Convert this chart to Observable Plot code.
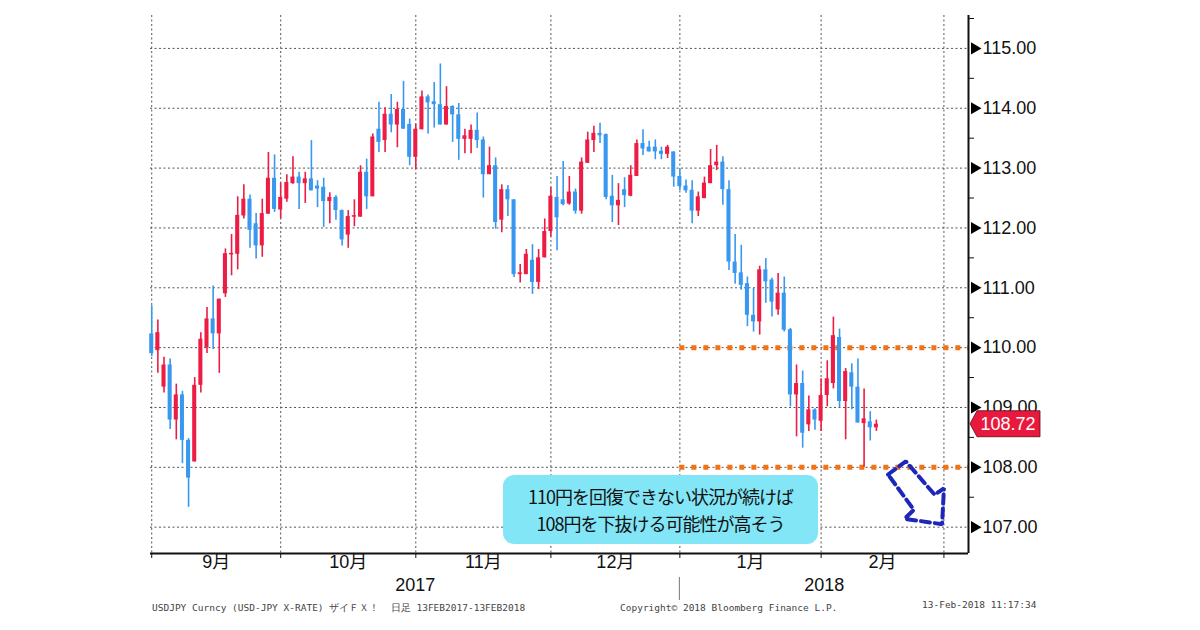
<!DOCTYPE html>
<html><head><meta charset="utf-8">
<script src="https://cdn.jsdelivr.net/npm/d3@7"></script>
<script src="https://cdn.jsdelivr.net/npm/@observablehq/plot@0.6"></script>
<style>
body{margin:0;background:#fff;}
#wrap{position:relative;width:1200px;height:630px;overflow:hidden;background:#fff;}
#callout{position:absolute;left:503px;top:475px;width:315px;height:69px;border-radius:11px;background:#82e6f7;color:#111;font-family:"Noto Sans CJK JP",sans-serif;font-size:18px;letter-spacing:-1px;line-height:26.5px;text-align:center;display:flex;flex-direction:column;justify-content:center;}
.foot{position:absolute;font-family:"DejaVu Sans Mono",monospace;font-size:9.5px;line-height:12px;color:#444;white-space:pre;}
</style></head>
<body><div id="wrap"></div>
<script>
// ---- data (USD/JPY daily candles, index 0 = first visible day) ----
const opens = [110.23,109.95,109.34,109.71,108.79,109.21,108.45,108.09,109.37,110.00,
110.48,110.23,110.90,111.55,111.56,112.20,112.48,112.07,111.70,112.23,
112.83,112.30,112.48,112.74,112.85,112.74,112.82,112.70,112.68,112.44,
112.51,112.29,111.88,112.18,112.18,112.93,112.52,113.65,113.46,113.90,
113.72,113.98,113.73,113.18,113.64,114.19,114.11,114.06,113.72,114.03,
113.89,113.48,113.48,113.63,113.47,112.89,113.04,112.13,112.64,112.47,
111.22,111.22,111.46,111.09,111.50,111.94,112.51,112.47,112.40,112.60,
112.28,113.08,113.46,113.58,113.56,112.53,112.37,112.64,112.53,112.86,
113.41,113.35,113.35,113.28,113.23,113.27,112.86,112.70,112.63,112.28,
112.49,112.74,113.04,113.10,112.64,111.43,111.25,111.07,110.54,110.43,
111.30,111.13,110.63,110.91,110.30,109.21,109.40,108.71,108.96,108.77,
109.20,109.40,110.17,109.10,109.58,109.34,108.73,108.76,108.66];
const highs = [110.70,110.46,109.84,109.81,109.39,109.27,108.48,109.50,110.25,110.67,
111.03,110.81,111.65,111.89,112.52,112.72,112.55,112.24,112.48,113.26,
113.22,112.75,112.89,113.19,112.93,112.93,113.46,112.79,112.83,112.59,
112.54,112.30,112.29,112.47,113.04,113.15,113.57,114.10,114.01,114.23,
114.10,114.45,113.82,113.73,114.29,114.22,114.43,114.74,114.36,114.04,
114.08,113.65,113.72,113.92,113.52,113.35,113.17,112.72,112.71,112.47,
111.39,111.64,111.72,111.64,112.15,112.67,112.86,113.11,112.86,112.65,
113.17,113.60,113.70,113.75,113.57,112.88,112.74,112.84,113.04,113.47,
113.64,113.45,113.47,113.35,113.38,113.27,112.98,112.80,112.79,112.60,
112.85,113.31,113.38,113.19,112.79,111.89,111.71,111.18,110.99,111.36,
111.49,111.16,111.24,111.18,110.32,109.71,109.61,109.19,108.98,109.48,
109.78,110.51,110.31,109.65,109.73,109.81,109.31,108.93,108.79];
const lows = [109.85,109.57,109.24,108.63,108.46,108.06,107.33,108.09,109.24,109.90,
109.97,109.57,110.84,111.20,111.30,112.15,111.66,111.48,111.51,112.23,
112.26,112.15,112.43,112.73,112.31,112.41,112.62,112.34,112.01,112.07,
112.13,111.70,111.66,112.02,112.18,112.31,112.52,113.26,113.26,113.59,
113.34,113.65,113.04,112.98,113.64,113.57,113.67,113.72,113.72,113.43,
113.13,113.24,113.24,113.33,112.50,112.89,111.98,111.92,112.19,111.17,
111.08,111.22,110.89,110.97,111.50,111.85,111.62,112.37,112.38,112.23,
112.23,113.08,113.26,113.41,112.47,112.09,112.04,112.34,112.52,112.86,
113.21,113.27,113.14,113.14,113.16,112.68,112.62,112.58,112.07,112.19,
112.49,112.74,112.96,112.38,111.29,111.06,110.96,110.35,110.26,110.21,
110.74,110.51,110.54,110.26,109.01,108.51,108.32,108.60,108.62,108.60,
109.01,109.31,109.00,108.46,108.96,108.74,108.00,108.44,108.60];
const closes = [109.90,110.25,109.71,108.79,109.21,108.45,107.82,109.37,110.14,110.48,
110.23,110.81,111.57,111.57,112.21,112.48,111.96,111.70,112.24,112.83,
112.31,112.51,112.76,112.85,112.74,112.82,112.62,112.65,112.44,112.51,
112.29,111.80,112.19,112.20,112.93,112.52,113.52,113.43,113.90,113.72,
113.98,113.65,113.18,113.65,114.19,114.09,114.06,113.72,114.03,113.89,
113.48,113.54,113.63,113.46,112.89,113.04,112.09,112.64,112.47,111.22,
111.25,111.56,111.09,111.50,111.94,112.53,112.17,112.39,112.60,112.28,
113.10,113.47,113.58,113.54,112.51,112.37,112.46,112.54,112.88,113.41,
113.32,113.27,113.27,113.23,113.35,112.85,112.69,112.62,112.28,112.52,
112.75,113.04,113.10,112.64,111.43,111.24,111.04,110.54,110.43,111.30,
111.10,110.76,110.91,110.29,109.21,109.40,108.57,108.96,108.79,109.20,
109.48,110.20,109.10,109.60,109.34,108.74,108.81,108.66,108.72];

// axis categories / ticks
const monthStart = [0, 21, 43, 65, 86, 109, 129];        // first trading day of each month (index)
const monthLabels = ["9月", "10月", "11月", "12月", "1月", "2月"];
const yearLabels = ["2017", "2018"];
const yearSplit = 86;                                     // first day of 2018
const yTicks = [107, 108, 109, 110, 111, 112, 113, 114, 115];
const yMinor = [107.5, 108.5, 109.5, 110.5, 111.5, 112.5, 113.5, 114.5, 115.5];

// annotations
const levels = [110, 108];
const levelStart = 86;
const arrowX = [119.9, 122.8, 127.5, 129.0, 128.7, 122.6, 124.1, 119.9];
const arrowY = [107.88, 108.10, 107.54, 107.65, 107.05, 107.14, 107.29, 107.88];
const calloutLines = ["110円を回復できない状況が続けば", "108円を下抜ける可能性が高そう"];
const footLeft = "USDJPY Curncy (USD-JPY X-RATE) ザイＦＸ！  日足 13FEB2017-13FEB2018";
const footMid = "Copyright© 2018 Bloomberg Finance L.P.";
const footRight = "13-Feb-2018 11:17:34";

// ---- build ----
const candles = opens.map((o, i) => ({i, open: o, high: highs[i], low: lows[i], close: closes[i]}));
const arrow = arrowX.map((x, k) => ({x, y: arrowY[k]}));
const xDomain = [-0.2, 133.0];
const yDomain = [106.56, 115.55];
const up = "#ec1c44", down = "#3898f0";
const col = d => d.close >= d.open ? up : down;
const minBody = 0.025;
const bodyEnd = d => Math.abs(d.close - d.open) < minBody ? d.open + (d.close >= d.open ? minBody : -minBody) : d.close;
const monthMid = monthLabels.map((m, k) => (monthStart[k] + monthStart[k + 1]) / 2);
const yearMid = [(xDomain[0] + yearSplit) / 2, (yearSplit + xDomain[1]) / 2];
const lastClose = closes[closes.length - 1];
const font = '"Liberation Sans","Noto Sans CJK JP",sans-serif';

function overlay(index, scales, values, dimensions) {
  const {width, height, marginRight, marginBottom} = dimensions;
  const xr = width - marginRight;
  const g = d3.create("svg:g");
  const yp = scales.y(lastClose);
  g.append("path")
    .attr("d", `M${xr + 2},${yp} L${xr + 9},${yp - 13} L${xr + 72},${yp - 13} L${xr + 72},${yp + 13} L${xr + 9},${yp + 13} Z`)
    .attr("fill", "#e8193c").attr("stroke", "#5a0a18").attr("stroke-width", 0.8);
  g.append("text").attr("x", xr + 40).attr("y", yp).attr("dy", "0.36em")
    .attr("text-anchor", "middle").attr("fill", "#fff").attr("font-size", 18)
    .attr("font-family", font).text(d3.format(".2f")(lastClose));
  const xs = scales.x(yearSplit);
  const yb = height - marginBottom;
  g.append("line").attr("x1", xs).attr("x2", xs).attr("y1", yb + 24).attr("y2", yb + 47)
    .attr("stroke", "#777").attr("stroke-width", 1);
  return g.node();
}

const chart = Plot.plot({
  width: 1200, height: 630,
  marginLeft: 150, marginRight: 232, marginTop: 15, marginBottom: 77,
  x: {type: "linear", domain: xDomain, axis: null},
  y: {type: "linear", domain: yDomain, axis: null},
  style: {fontFamily: font, background: "transparent", overflow: "visible", color: "#111"},
  marks: [
    Plot.ruleY(yTicks, {stroke: "#555", strokeWidth: 1, strokeDasharray: "2,2.5"}),
    Plot.ruleX(monthStart, {stroke: "#555", strokeWidth: 1, strokeDasharray: "2,2.5"}),
    Plot.ruleY(levels, {x1: levelStart, x2: xDomain[1], stroke: "#f47216", strokeWidth: 5, strokeDasharray: "5,7"}),
    Plot.ruleX(candles, {x: "i", y1: "low", y2: "high", stroke: col, strokeWidth: 1.6}),
    Plot.rect(candles, {x1: d => d.i - 0.33, x2: d => d.i + 0.33, y1: "open", y2: bodyEnd, fill: col}),
    Plot.line(arrow, {x: "x", y: "y", stroke: "#1f27b8", strokeWidth: 4, strokeDasharray: "9,5", strokeLinejoin: "miter", curve: "linear"}),
    Plot.ruleY([yDomain[0]], {stroke: "#111", strokeWidth: 2}),
    Plot.ruleX([xDomain[1]], {stroke: "#111", strokeWidth: 2}),
    Plot.axisX({ticks: monthStart, tickSize: 5, tickFormat: () => "", stroke: "#111"}),
    Plot.text(monthLabels, {x: (d, k) => monthMid[k], frameAnchor: "bottom", dy: 14, fontSize: 18, fill: "#111"}),
    Plot.text(yearLabels, {x: (d, k) => yearMid[k], frameAnchor: "bottom", dy: 37, fontSize: 18, fill: "#111"}),
    Plot.axisY({anchor: "right", ticks: yTicks, tickSize: 0, tickPadding: 14, tickFormat: d3.format(".2f"), fontSize: 18}),
    Plot.axisY({anchor: "right", ticks: yMinor, tickSize: 5, tickFormat: () => ""}),
    Plot.dot(yTicks, {y: d => d, frameAnchor: "right", symbol: "triangle", rotate: 90, r: 4.5, fill: "#000", dx: 6}),
    overlay
  ]
});

const wrap = document.getElementById("wrap");
wrap.appendChild(chart);
chart.style.position = "absolute"; chart.style.left = "0"; chart.style.top = "0";

const box = document.createElement("div");
box.id = "callout";
calloutLines.forEach(t => { const s = document.createElement("div"); s.textContent = t; box.appendChild(s); });
wrap.appendChild(box);

[[footLeft, 152, 602], [footMid, 620, 602], [footRight, 922, 599]].forEach(([t, l, tp]) => {
  const f = document.createElement("div");
  f.className = "foot"; f.textContent = t;
  f.style.left = l + "px"; f.style.top = tp + "px";
  wrap.appendChild(f);
});
</script>
</body></html>
